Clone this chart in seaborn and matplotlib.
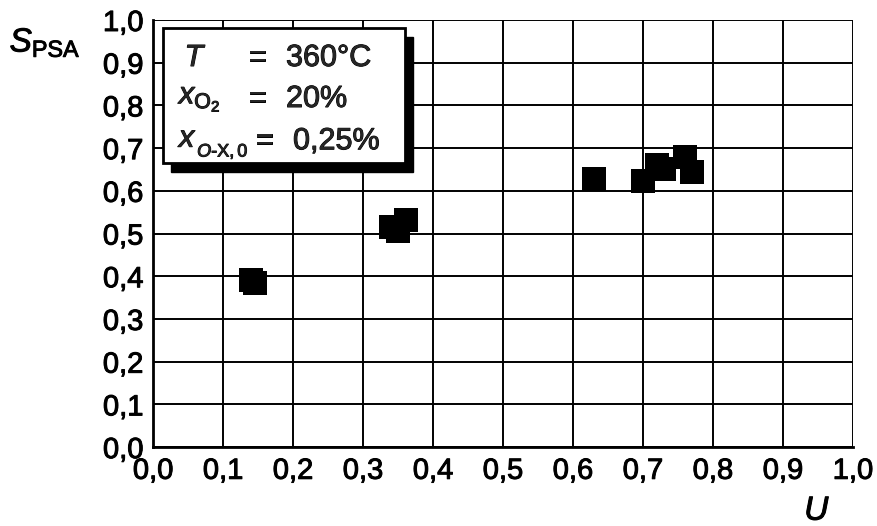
import matplotlib
matplotlib.use("Agg")
import matplotlib.pyplot as plt
import matplotlib.patheffects as pe
import seaborn as sns
import pandas as pd
from matplotlib.patches import Rectangle

# conversion U vs. selectivity S_PSA
conversion = [0.140, 0.146, 0.340, 0.350, 0.362, 0.630, 0.700, 0.720, 0.730, 0.760, 0.770]
selectivity = [0.392, 0.385, 0.515, 0.505, 0.532, 0.628, 0.623, 0.660, 0.650, 0.680, 0.645]

tick_values = [0.0, 0.1, 0.2, 0.3, 0.4, 0.5, 0.6, 0.7, 0.8, 0.9, 1.0]
tick_labels = ["0,0", "0,1", "0,2", "0,3", "0,4", "0,5", "0,6", "0,7", "0,8", "0,9", "1,0"]

sns.set_theme(style="white")
plt.rcParams["font.family"] = ["Liberation Sans", "DejaVu Sans"]
plt.rcParams["mathtext.fontset"] = "custom"
plt.rcParams["mathtext.rm"] = "Liberation Sans"
plt.rcParams["mathtext.it"] = "Liberation Sans:italic"
plt.rcParams["mathtext.bf"] = "Liberation Sans:bold"

heavy = [pe.withStroke(linewidth=0.7, foreground="black")]

df = pd.DataFrame({"U": conversion, "S": selectivity})

fig = plt.figure(figsize=(8.77, 5.26), dpi=100)
ax = fig.add_axes([0.1745, 0.150, 0.798, 0.812])

sns.scatterplot(data=df, x="U", y="S", marker="s", s=300, color="black",
                edgecolor="black", linewidth=0, ax=ax, zorder=5, legend=False)

ax.set_xlim(0, 1)
ax.set_ylim(0, 1)
ax.set_xticks(tick_values)
ax.set_yticks(tick_values)
ax.set_xticklabels(tick_labels)
ax.set_yticklabels(tick_labels)
ax.tick_params(axis="both", direction="inout", length=10, width=1.8,
               color="black", labelsize=21, labelcolor="black", pad=2)
for lbl in ax.get_xticklabels() + ax.get_yticklabels():
    lbl.set_path_effects(heavy)
ax.grid(True, color="black", linewidth=1.4)
for sp in ax.spines.values():
    sp.set_visible(False)
for side in ("left", "bottom"):
    ax.spines[side].set_visible(True)
    ax.spines[side].set_linewidth(2)
    ax.spines[side].set_color("black")
ax.set_xlabel("")
ax.set_ylabel("")

# axis titles
fig.text(0.011, 0.902, r"$S_{\mathrm{PSA}}$", fontsize=24, color="black", path_effects=heavy)
fig.text(0.917, 0.012, "U", fontsize=24, style="italic", color="black", path_effects=heavy)

# parameter box with drop shadow
x0, y0, w, h = 0.014, 0.665, 0.346, 0.316
ax.add_patch(Rectangle((x0 + 0.011, y0 - 0.02), w, h, transform=ax.transAxes,
                       facecolor="black", edgecolor="black", zorder=8))
ax.add_patch(Rectangle((x0, y0), w, h, transform=ax.transAxes,
                       facecolor="white", edgecolor="black", linewidth=2, zorder=9))

box_text = dict(transform=ax.transAxes, va="center", ha="left", zorder=10,
                path_effects=heavy)

# row 1: temperature
ax.text(0.045, 0.911, "T", fontsize=22, style="italic", **box_text)
ax.text(0.136, 0.911, "=", fontsize=22, **box_text)
ax.text(0.190, 0.911, "360°C", fontsize=22, **box_text)

# row 2: oxygen fraction
ax.text(0.037, 0.815, r"$x_{\mathrm{O}_2}$", fontsize=22, **box_text)
ax.text(0.136, 0.815, "=", fontsize=22, **box_text)
ax.text(0.190, 0.815, "20%", fontsize=22, **box_text)

# row 3: o-xylene inlet fraction
ax.text(0.037, 0.722, "x", fontsize=22, style="italic", **box_text)
ax.text(0.063, 0.692, r"$O\mathrm{\text{-}X,0}$", fontsize=13, **box_text)
ax.text(0.146, 0.716, "=", fontsize=22, **box_text)
ax.text(0.200, 0.716, "0,25%", fontsize=22, **box_text)

fig.savefig("out.png", dpi=100)
